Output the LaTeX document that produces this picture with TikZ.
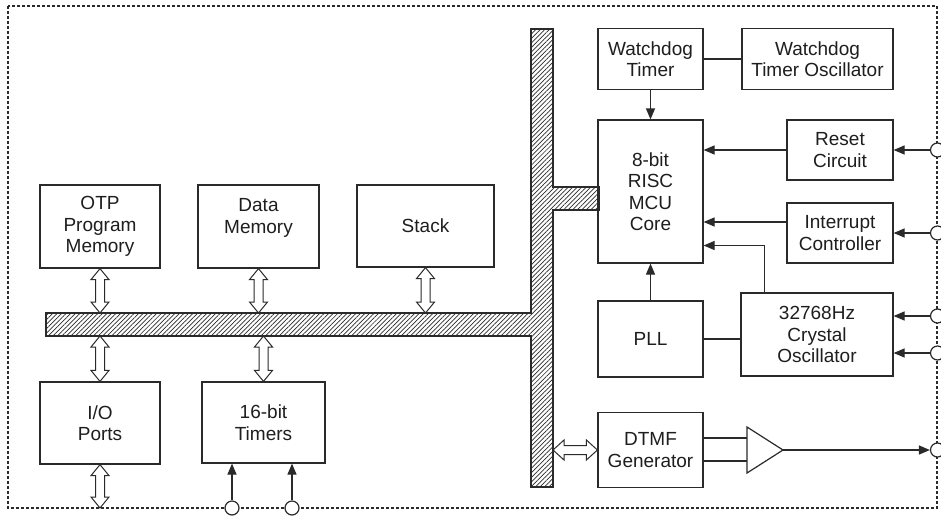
\documentclass[tikz,border=0pt]{standalone}
\usepackage{fontspec}
\setmainfont{Liberation Sans}
\usetikzlibrary{patterns.meta,arrows.meta,calc}
\definecolor{ln}{HTML}{2A2A2A}
\definecolor{tx}{HTML}{1E1E1E}
\tikzset{
 blk/.style={draw=ln, line width=1.2pt, align=center, text=tx, inner sep=0pt, font=\fontsize{19pt}{21.5pt}\selectfont},
 arr/.style={draw=ln, line width=1.2pt, -{Triangle[length=11pt,width=9pt]}},
 wire/.style={draw=ln, line width=1.2pt},
 pincirc/.style={circle, draw=ln, fill=white, line width=1.2pt, minimum size=14pt, inner sep=0pt},
 biar/.style={draw=ln, fill=white, line width=1pt, line join=miter},
 busst/.style={draw=ln, line width=1.2pt, pattern={Lines[angle=45,distance=3.2pt,line width=0.7pt]}, pattern color=ln},
 border/.style={draw=ln, line width=1.1pt, dash pattern=on 3pt off 2pt},
}
% vertical hollow double arrow: #1 top point, #2 bottom point
\newcommand{\vbiarrow}[2]{\draw[biar] let \p1=#1, \p2=#2 in
 (\x1,\y1) -- (\x1+9pt,\y1-11pt) -- (\x1+4.5pt,\y1-11pt) -- (\x1+4.5pt,\y2+11pt) -- (\x1+9pt,\y2+11pt) -- (\x1,\y2)
 -- (\x1-9pt,\y2+11pt) -- (\x1-4.5pt,\y2+11pt) -- (\x1-4.5pt,\y1-11pt) -- (\x1-9pt,\y1-11pt) -- cycle;}
% horizontal hollow double arrow: #1 left point, #2 right point
\newcommand{\hbiarrow}[2]{\draw[biar] let \p1=#1, \p2=#2 in
 (\x1,\y1) -- (\x1+11pt,\y1+10pt) -- (\x1+11pt,\y1+4.5pt) -- (\x2-11pt,\y1+4.5pt) -- (\x2-11pt,\y1+10pt) -- (\x2,\y1)
 -- (\x2-11pt,\y1-10pt) -- (\x2-11pt,\y1-4.5pt) -- (\x1+11pt,\y1-4.5pt) -- (\x1+11pt,\y1-10pt) -- cycle;}
\begin{document}
\begin{tikzpicture}[x=1pt,y=-1pt]
\useasboundingbox[fill=white] (0,0) rectangle (941,520);
% outer dashed border
\draw[border] (8,6) rectangle (937,508);
% bus
\draw[busst] (46,313) -- (531,313) -- (531,29) -- (553,29) -- (553,187) -- (599,187) -- (599,210)
 -- (553,210) -- (553,487) -- (531,487) -- (531,336) -- (46,336) -- cycle;
\coordinate (hbusN) at (300,313);
\coordinate (hbusS) at (300,336);
\coordinate (vbusE) at (553,450);
% blocks
\node[blk, minimum width=120pt, minimum height=83pt] (otp) at (100,226.5) {OTP\\Program\\Memory};
\node[blk, minimum width=121pt, minimum height=83pt] (dmem) at (258.5,226.5) {Data\\Memory\\\mbox{}};
\node[blk, minimum width=137pt, minimum height=82pt] (stack) at (425.5,226) {Stack};
\node[blk, minimum width=120pt, minimum height=82pt] (io) at (100,423) {I/O\\Ports};
\node[blk, minimum width=123pt, minimum height=81pt] (tmr) at (263.5,422.5) {16-bit\\Timers};
\node[blk, minimum width=105pt, minimum height=61pt] (wdt) at (650.5,59) {Watchdog\\Timer};
\node[blk, minimum width=151pt, minimum height=61pt] (wdo) at (817.5,59) {Watchdog\\Timer Oscillator};
\node[blk, minimum width=105pt, minimum height=143pt] (mcu) at (650.5,191.5) {8-bit\\RISC\\MCU\\Core};
\node[blk, minimum width=106pt, minimum height=60pt] (rst) at (840,150) {Reset\\Circuit};
\node[blk, minimum width=106pt, minimum height=60pt] (irq) at (840,233) {Interrupt\\Controller};
\node[blk, minimum width=105pt, minimum height=76pt] (pll) at (650.5,339) {PLL};
\node[blk, minimum width=152pt, minimum height=83pt] (xtal) at (817,334.5) {32768Hz\\Crystal\\Oscillator};
\node[blk, minimum width=105pt, minimum height=75pt] (dtmf) at (650.5,450) {DTMF\\Generator};
% amplifier
\coordinate (ampA) at (747,427);
\coordinate (ampB) at (747,473);
\coordinate (ampT) at (783,450);
\draw[wire, line join=miter] (ampA) -- (ampT) -- (ampB) -- cycle;
% pins
\node[pincirc] (p1) at (937.5,150) {};
\node[pincirc] (p2) at (937.5,233) {};
\node[pincirc] (p3) at (937.5,316) {};
\node[pincirc] (p4) at (937.5,353) {};
\node[pincirc] (p5) at (937.5,450) {};
\node[pincirc] (p6) at (232,508) {};
\node[pincirc] (p7) at (292,508) {};
% hollow double arrows
\vbiarrow{(otp.south)}{(otp.south |- hbusN)}
\vbiarrow{(dmem.south)}{(dmem.south |- hbusN)}
\vbiarrow{(stack.south)}{(stack.south |- hbusN)}
\vbiarrow{(io.north |- hbusS)}{(io.north)}
\vbiarrow{(tmr.north |- hbusS)}{(tmr.north)}
\coordinate (ioout) at (100,508);
\vbiarrow{(io.south)}{(ioout)}
\hbiarrow{(vbusE)}{(dtmf.west)}
% connectors
\draw[wire] (wdt) -- (wdo);
\draw[arr] (wdt) -- (mcu);
\draw[arr] (rst) -- (rst -| mcu.east);
\draw[arr] ([yshift=11pt]irq.west) -- ([yshift=11pt]irq.west -| mcu.east);
\draw[arr] ([xshift=24pt]xtal.north west) |- ([yshift=-54pt]mcu.east);
\draw[arr] (pll) -- (mcu);
\draw[wire] (pll.east) -- (pll.east -| xtal.west);
\draw[arr] (p1) -- (p1 -| rst.east);
\draw[arr] (p2) -- (p2 -| irq.east);
\draw[arr] (p3) -- (p3 -| xtal.east);
\draw[arr] (p4) -- (p4 -| xtal.east);
\draw[wire] ([yshift=12pt]dtmf.east) -- ([yshift=12pt]dtmf.east -| ampA);
\draw[wire] ([yshift=-11pt]dtmf.east) -- ([yshift=-11pt]dtmf.east -| ampA);
\draw[arr] (ampT) -- (p5);
\draw[arr] (p6) -- (p6 |- tmr.south);
\draw[arr] (p7) -- (p7 |- tmr.south);
\end{tikzpicture}
\end{document}
